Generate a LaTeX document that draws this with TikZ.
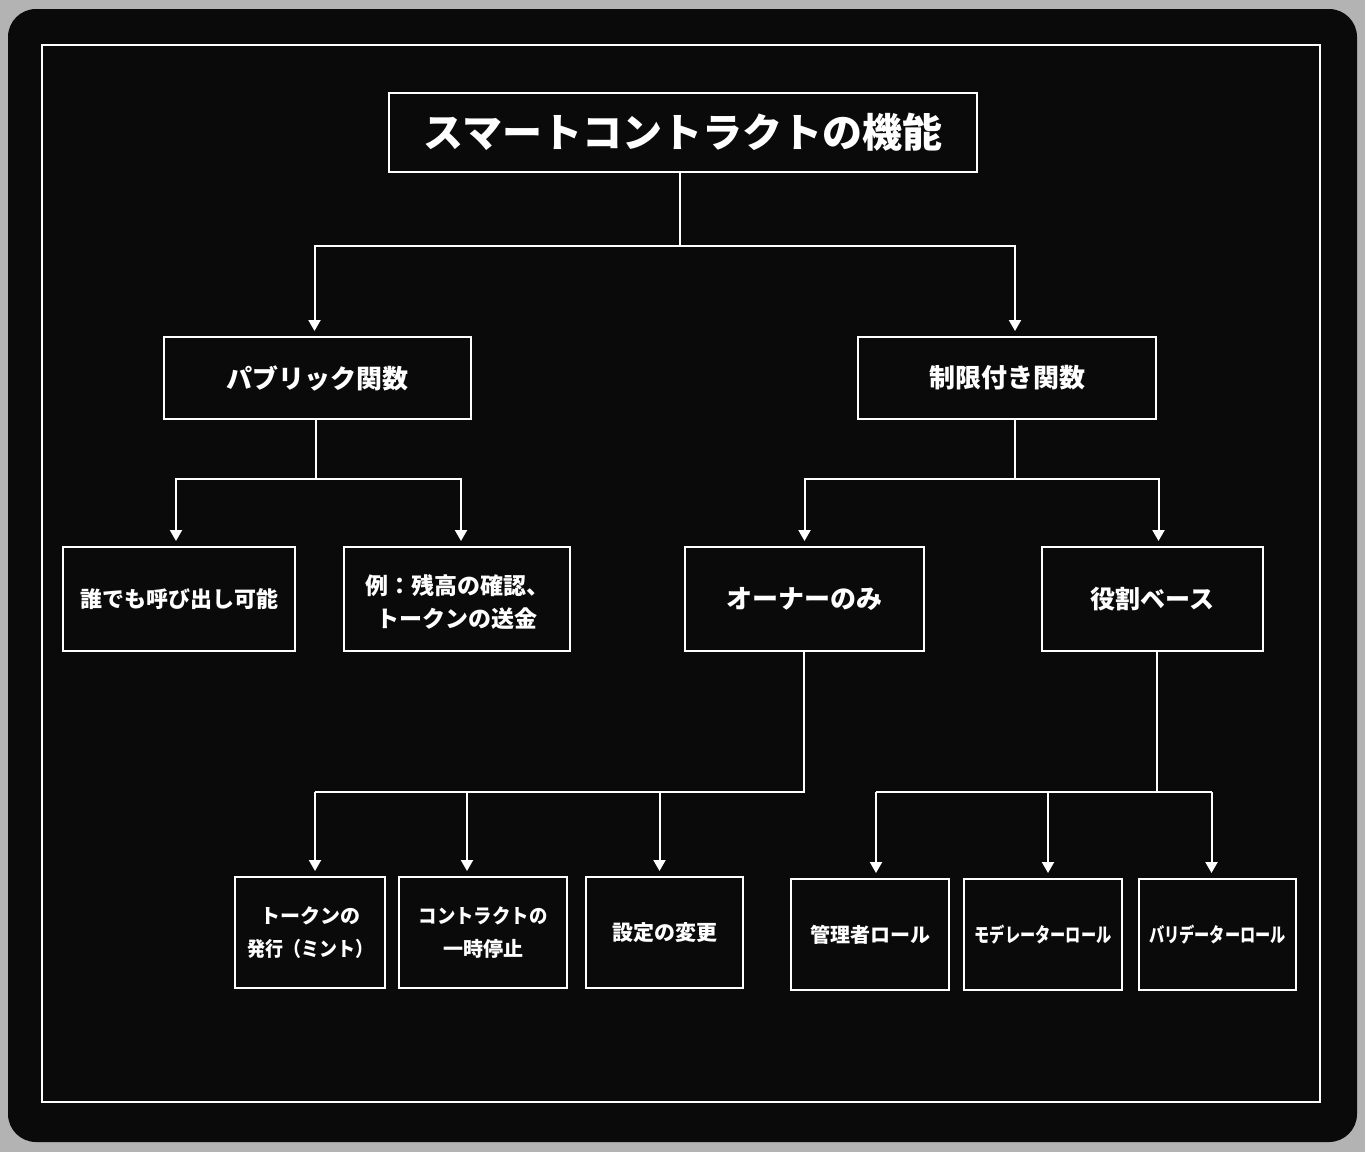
\documentclass[tikz,border=0pt]{standalone}
\usepackage{fontspec}
\newfontfamily\jp{Noto Sans CJK JP}
\usetikzlibrary{arrows.meta}
\definecolor{bgray}{HTML}{B3B3B3}
\definecolor{panel}{HTML}{0A0A0A}
\tikzset{
  box/.style={draw=white, line width=2pt, fill=panel, text=white, inner sep=0pt, align=center},
  conn/.style={draw=white, line width=2pt},
  arr/.style={conn, -{Triangle[width=12pt,length=11pt]}, shorten >=5pt},
  fs/.style={font=\jp\bfseries\fontsize{#1}{#1}\selectfont},
  fsl/.style={font=\jp\bfseries\fontsize{#1}{33}\selectfont}
}
\begin{document}
\begin{tikzpicture}[x=1pt,y=-1pt]
\useasboundingbox (0,0) rectangle (1365,1152);
\fill[bgray] (0,0) rectangle (1365,1152);
\fill[panel, rounded corners=28pt] (8,9) rectangle (1357,1142);
\draw[white, line width=2.5pt] (42,45) rectangle (1320,1102);

\node[box, fs=40, minimum width=588pt, minimum height=79pt] (title) at (683,132.5) {スマートコントラクトの機能};
\node[box, fs=26, minimum width=307pt, minimum height=82pt] (pub) at (317.5,378) {パブリック関数};
\node[box, fs=26, minimum width=298pt, minimum height=82pt] (res) at (1007,378) {制限付き関数};
\node[box, fs=22, minimum width=232pt, minimum height=104pt] (any) at (179,599) {誰でも呼び出し可能};
\node[box, fsl=23, minimum width=226pt, minimum height=104pt] (ex) at (457,599) {\rule{0pt}{26pt}例：残高の確認、\\トークンの送金};
\node[box, fs=26, minimum width=239pt, minimum height=104pt] (own) at (804.5,599) {オーナーのみ};
\node[box, fs=25, minimum width=221pt, minimum height=104pt] (role) at (1152.5,599) {役割ベース};
\node[box, fsl=20, minimum width=150pt, minimum height=111pt] (c1) at (310,932.5) {トークンの\\\scalebox{0.9}[1]{発行（ミント）}};
\node[box, fsl=20, minimum width=168pt, minimum height=111pt] (c2) at (483,932.5) {\scalebox{0.92}[1]{コントラクトの}\\一時停止};
\node[box, fs=21, minimum width=157pt, minimum height=111pt] (c3) at (664.5,932.5) {設定の変更};
\node[box, fs=20, minimum width=158pt, minimum height=111pt] (r1) at (870,934.5) {管理者ロール};
\node[box, fs=20, minimum width=158pt, minimum height=111pt] (r2) at (1043,934.5) {\scalebox{0.76}[1]{モデレーターロール}};
\node[box, fs=20, minimum width=157pt, minimum height=111pt] (r3) at (1217.5,934.5) {\scalebox{0.76}[1]{バリデーターロール}};

% level 1
\coordinate (b1) at (0,246);
\draw[conn] ([xshift=-3pt]title.south) -- ([xshift=-3pt]title.south |- b1);
\draw[arr] ([xshift=-3pt]title.south |- b1) -| ([xshift=-3pt]pub.north);
\draw[arr] ([xshift=-3pt]title.south |- b1) -| ([xshift=8pt]res.north);

% public children
\coordinate (b2) at (0,479);
\draw[conn] ([xshift=-2pt]pub.south) -- ([xshift=-2pt]pub.south |- b2);
\draw[arr] ([xshift=-2pt]pub.south |- b2) -| ([xshift=-3pt]any.north);
\draw[arr] ([xshift=-2pt]pub.south |- b2) -| ([xshift=4pt]ex.north);

% restricted children
\draw[conn] ([xshift=8pt]res.south) -- ([xshift=8pt]res.south |- b2);
\draw[arr] ([xshift=8pt]res.south |- b2) -| (own.north);
\draw[arr] ([xshift=8pt]res.south |- b2) -| ([xshift=6pt]role.north);

% owner children
\coordinate (b3) at (0,792);
\draw[conn] ([xshift=-1pt]own.south) |- ([xshift=5pt]c1.north |- b3);
\draw[arr] ([xshift=5pt]c1.north |- b3) -- ([xshift=5pt]c1.north);
\draw[arr] ([xshift=-16pt]c2.north |- b3) -- ([xshift=-16pt]c2.north);
\draw[arr] ([xshift=-5pt]c3.north |- b3) -- ([xshift=-5pt]c3.north);

% role children
\draw[conn] ([xshift=4pt]role.south) -- ([xshift=4pt]role.south |- b3);
\draw[conn] ([xshift=6pt]r1.north |- b3) -- ([xshift=-6pt]r3.north |- b3);
\draw[arr] ([xshift=6pt]r1.north |- b3) -- ([xshift=6pt]r1.north);
\draw[arr] ([xshift=5pt]r2.north |- b3) -- ([xshift=5pt]r2.north);
\draw[arr] ([xshift=-6pt]r3.north |- b3) -- ([xshift=-6pt]r3.north);
\end{tikzpicture}
\end{document}
